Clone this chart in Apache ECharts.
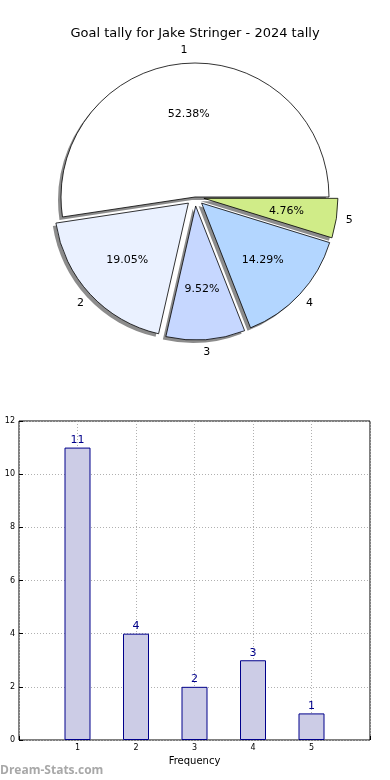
<!DOCTYPE html>
<html>
<head>
<meta charset="utf-8">
<script src="https://cdn.jsdelivr.net/npm/echarts@6/dist/echarts.min.js"></script>
<style>html,body{margin:0;padding:0;background:#fff;}#c{width:390px;height:780px;}</style>
</head>
<body>
<div id="c"></div>
<script>
const pieNames = ['1', '2', '3', '4', '5'];
const pieValues = [11, 4, 2, 3, 1];
const pieColors = ['#ffffff', '#eaf1ff', '#c6d7ff', '#b3d6ff', '#d0ec88'];
const pieExploded = [false, true, true, true, true];
const barCategories = [1, 2, 3, 4, 5];
const barValues = [11, 4, 2, 3, 1];

const total = pieValues.reduce((a, b) => a + b, 0);
const FONT = 'DejaVu Sans';
const R = 134;
const CX = 195, CY = 197;
const OFFSET = 9;

function pieData(style) {
  return pieNames.map((n, i) => ({
    name: n, value: pieValues[i], selected: pieExploded[i],
    itemStyle: style(i)
  }));
}
const common = {
  type: 'pie', center: [CX, CY], startAngle: 0, clockwise: false,
  selectedMode: 'multiple', selectedOffset: OFFSET, animation: false,
  avoidLabelOverlap: false, labelLine: { show: false }, emphasis: { disabled: true },
  select: { disabled: false, itemStyle: {} }, label: { show: false }
};

const chart = echarts.init(document.getElementById('c'), null, { renderer: 'canvas' });
chart.setOption({
  backgroundColor: '#fff',
  animation: false,
  title: {
    text: 'Goal tally for Jake Stringer - 2024 tally', left: 'center', top: 22,
    textStyle: { fontFamily: FONT, fontSize: 13, fontWeight: 'normal', color: '#000' }
  },
  graphic: [{
    type: 'text', left: 0, top: 765,
    style: { text: 'Dream-Stats.com', fill: '#a8a8a8', fontSize: 12, fontWeight: 'bold', fontFamily: 'Open Sans' }
  }],
  grid: { left: 19, right: 20, top: 421, bottom: 40, containLabel: false, outerBoundsMode: 'none',
    show: true, borderColor: '#000', borderWidth: 1 },
  xAxis: {
    type: 'value', min: 0, max: 6, interval: 1,
    name: 'Frequency', nameLocation: 'middle', nameGap: 16, nameMoveOverlap: false,
    nameTextStyle: { fontFamily: FONT, fontSize: 10, color: '#000' },
    axisLine: { show: false },
    axisTick: { show: true, inside: true, length: 4, lineStyle: { color: '#000' } },
    axisLabel: { fontFamily: FONT, fontSize: 8, color: '#000', margin: 4,
      formatter: v => (barCategories.indexOf(v) >= 0 ? String(v) : '') },
    splitLine: { show: true, lineStyle: { color: '#b0b0b0', type: [1, 2] } }
  },
  yAxis: {
    type: 'value', min: 0, max: 12, interval: 2,
    name: 'Goal Instances', nameLocation: 'middle', nameRotate: 90, nameGap: 17, nameMoveOverlap: false,
    nameTextStyle: { fontFamily: FONT, fontSize: 10, color: '#000' },
    axisLine: { show: false },
    axisTick: { show: true, inside: true, length: 4, lineStyle: { color: '#000' } },
    axisLabel: { fontFamily: FONT, fontSize: 8, color: '#000', margin: 4 },
    splitLine: { show: true, lineStyle: { color: '#b0b0b0', type: [1, 2] } }
  },
  series: [
    Object.assign({}, common, {
      name: 'shadow', radius: R, center: [CX - 3, CY + 3], silent: true, z: 1,
      data: pieData(() => ({ color: '#8c8c8c', borderWidth: 0 }))
    }),
    Object.assign({}, common, {
      name: 'pie', radius: R, z: 2,
      data: pieData(i => ({ color: pieColors[i], borderColor: '#000', borderWidth: 0.8 }))
    }),
    Object.assign({}, common, {
      name: 'pct', radius: R * 1.2, silent: true, z: 5,
      data: pieData(() => ({ color: 'rgba(0,0,0,0)', borderWidth: 0 })),
      label: { show: true, position: 'inside', fontFamily: FONT, fontSize: 11, color: '#000',
        formatter: p => (p.value / total * 100).toFixed(2) + '%' }
    }),
    Object.assign({}, common, {
      name: 'names', radius: R * 2.15, silent: true, z: 5,
      data: pieData(() => ({ color: 'rgba(0,0,0,0)', borderWidth: 0 })),
      label: { show: true, position: 'inside', fontFamily: FONT, fontSize: 11, color: '#000',
        formatter: p => p.name }
    }),
    {
      type: 'bar', name: 'bars',
      data: barCategories.map((c, i) => [c, barValues[i]]),
      barWidth: 26,
      itemStyle: { color: '#ccccE6', borderColor: '#00008b', borderWidth: 1 },
      label: { show: true, position: 'top', distance: 2, color: '#00008b', fontFamily: FONT, fontSize: 11 }
    }
  ]
});
</script>
</body>
</html>
